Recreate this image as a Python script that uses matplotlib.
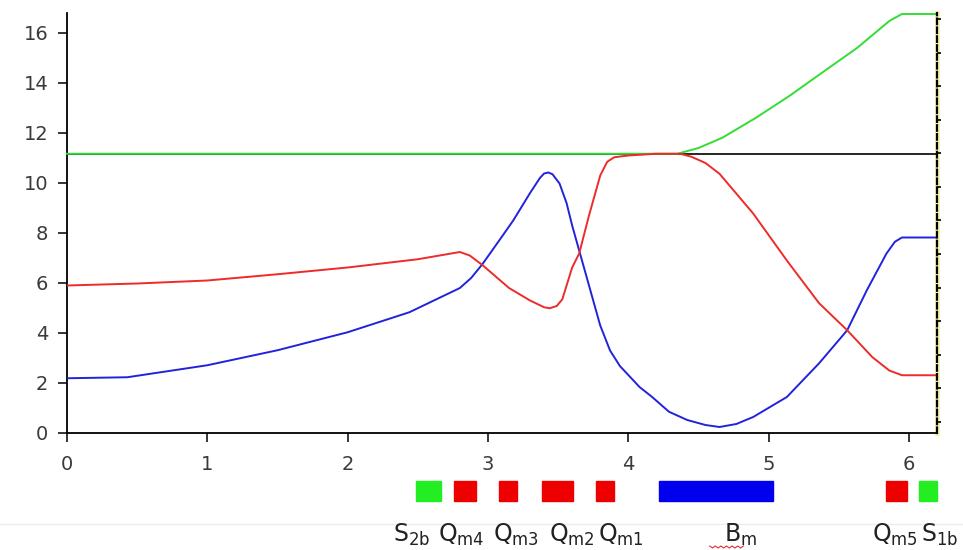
import matplotlib.pyplot as plt
from matplotlib.transforms import blended_transform_factory

# lattice functions
s_blue = [0.0, 0.43, 1.0, 1.5, 2.0, 2.44, 2.8, 2.88, 2.96, 3.08, 3.18, 3.3, 3.37,
          3.4, 3.43, 3.46, 3.51, 3.56, 3.6, 3.7, 3.8, 3.87, 3.94, 4.08, 4.17, 4.29,
          4.42, 4.55, 4.65, 4.77, 4.89, 5.13, 5.36, 5.56, 5.7, 5.84, 5.9, 5.95, 6.2]
y_blue = [2.19, 2.23, 2.71, 3.31, 4.03, 4.83, 5.8, 6.2, 6.75, 7.7, 8.5, 9.6, 10.2,
          10.38, 10.42, 10.35, 9.98, 9.2, 8.3, 6.3, 4.3, 3.3, 2.68, 1.84, 1.44, 0.85,
          0.52, 0.32, 0.24, 0.36, 0.64, 1.44, 2.79, 4.11, 5.71, 7.18, 7.65, 7.82, 7.82]

s_red = [0.0, 0.5, 1.0, 1.5, 2.0, 2.5, 2.8, 2.87, 2.96, 3.15, 3.3, 3.4, 3.44, 3.49,
         3.53, 3.6, 3.65, 3.72, 3.8, 3.85, 3.9, 4.0, 4.2, 4.37, 4.45, 4.55, 4.65, 4.89,
         5.13, 5.36, 5.56, 5.74, 5.86, 5.95, 6.2]
y_red = [5.9, 5.98, 6.1, 6.35, 6.62, 6.95, 7.24, 7.1, 6.72, 5.8, 5.3, 5.03, 4.99, 5.08,
         5.35, 6.62, 7.18, 8.7, 10.3, 10.85, 11.03, 11.1, 11.17, 11.17, 11.05, 10.8, 10.37, 8.78,
         6.9, 5.19, 4.11, 3.03, 2.5, 2.31, 2.31]

s_green = [0.0, 4.35, 4.5, 4.67, 4.91, 5.15, 5.38, 5.63, 5.86, 5.95, 6.2]
y_green = [11.17, 11.17, 11.4, 11.81, 12.61, 13.49, 14.41, 15.4, 16.48, 16.76, 16.76]

ref_level = 11.17
s_end = 6.2

# magnets along the line
elem_names = ['S_{2b}', 'Q_{m4}', 'Q_{m3}', 'Q_{m2}', 'Q_{m1}', 'B_{m}', 'Q_{m5}', 'S_{1b}']
elem_start = [2.486, 2.757, 3.077, 3.383, 3.767, 4.216, 5.833, 6.075]
elem_end = [2.664, 2.913, 3.205, 3.604, 3.896, 5.028, 5.983, 6.197]
elem_colors = ['#22ee22', '#ee0000', '#ee0000', '#ee0000', '#ee0000', '#0000ee', '#ee0000', '#22ee22']
label_pos = [2.455, 2.81, 3.2, 3.6, 3.95, 4.8, 5.9, 6.22]

plt.rcParams['mathtext.fontset'] = 'custom'
plt.rcParams['mathtext.rm'] = 'Liberation Sans Narrow'

W, H = 963, 550
fig = plt.figure(figsize=(W / 100, H / 100), dpi=100, facecolor='white')
ax = fig.add_axes([67 / W, 117 / H, 870 / W, 420 / H])

ax.axhline(ref_level, color='black', lw=1.2, zorder=2)
ax.plot(s_green, y_green, color='#33dd33', lw=1.4, zorder=3, clip_on=False)
ax.plot(s_blue, y_blue, color='#2222dd', lw=1.4, zorder=4)
ax.plot(s_red, y_red, color='#ee2a2a', lw=1.4, zorder=5)

ax.set_xlim(0, s_end)
ax.set_ylim(0, 16.8)
ax.set_xticks(range(0, 7))
ax.set_yticks(range(0, 17, 2))
ax.spines[['top', 'right']].set_visible(False)
ax.spines[['left', 'bottom']].set_linewidth(1.3)
ax.tick_params(direction='out', length=6.5, width=1.1, labelsize=14,
               labelcolor='#3a3a3a')
ax.tick_params(axis='y', pad=7)
ax.tick_params(axis='x', pad=9)

# dashed yellow/black right edge with small ticks
ax.axvline(s_end, color='#f7f4ae', lw=3.5, zorder=1, clip_on=False)
ax2 = ax.twinx()
ax2.set_ylim(-0.33, 12.18)
ax2.set_yticks(range(0, 13))
ax2.set_yticklabels([])
ax2.tick_params(axis='y', direction='out', length=3, width=1.2, color='black')
ax2.spines[['top', 'left', 'bottom']].set_visible(False)
ax2.spines['right'].set_linestyle((0, (2.5, 1.5)))
ax2.spines['right'].set_linewidth(1.6)

# faint separator line behind labels
fig.add_artist(plt.Line2D([0, 1], [1 - 524 / H, 1 - 524 / H], color='#ececec',
                          lw=1, transform=fig.transFigure, zorder=0))

trans = blended_transform_factory(ax.transData, fig.transFigure)
for x0, x1, c in zip(elem_start, elem_end, elem_colors):
    ax.add_patch(plt.Rectangle((x0, 1 - 501 / H), x1 - x0, 20 / H, transform=trans,
                               color=c, clip_on=False))

for name, x in zip(elem_names, label_pos):
    ax.text(x, 1 - 542 / H, r'$\mathrm{' + name + '}$', transform=trans,
            ha='center', va='baseline', fontsize=17, color='#222222',
            clip_on=False)

# spell-check squiggle under B_m
bx = [4.58 + 0.02 * i for i in range(13)]
by = [1 - (547 + (1 if i % 2 else -1)) / H for i in range(13)]
ax.plot(bx, by, color='#e03030', lw=0.8, transform=trans, clip_on=False)

fig.savefig('out.png', dpi=100)
